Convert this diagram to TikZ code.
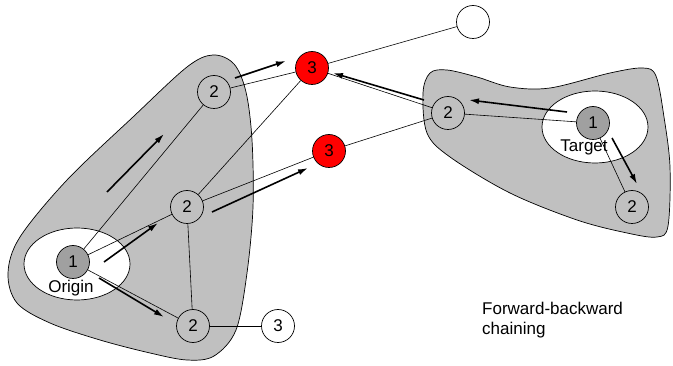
\documentclass[tikz,border=0pt]{standalone}
\usepackage{fontspec}
\setmainfont{Liberation Sans}
\usetikzlibrary{arrows.meta}
\definecolor{regiongray}{HTML}{C0C0C0}
\definecolor{seedgray}{HTML}{A0A0A0}
\definecolor{hitred}{HTML}{FF0000}
\tikzset{
  state/.style={circle, draw=black, line width=0.7pt, minimum size=33pt, inner sep=0pt,
                font=\fontsize{17pt}{19pt}\selectfont, fill=regiongray},
  seed/.style={state, fill=seedgray},
  open/.style={state, fill=white},
  hit/.style={state, fill=hitred},
  region/.style={draw=black, line width=0.7pt, fill=regiongray},
  zone/.style={draw=black, line width=0.7pt, fill=white},
  link/.style={draw=black, line width=0.6pt},
  flow/.style={draw=black, line width=1.6pt, -{Latex[length=10pt,width=6pt]}},
  caption/.style={font=\fontsize{17pt}{20pt}\selectfont, inner sep=0pt}
}
\begin{document}
\begin{tikzpicture}[x=1pt, y=-1pt]
\useasboundingbox (0,0) rectangle (673,366);

% search regions
\draw[region] plot[smooth cycle, tension=0.55] coordinates {
  (213,55) (234,64) (246,92) (252,140) (253,207) (247,273) (236,330) (214,356)
  (187,360) (150,353) (100,340) (50,323) (17,303) (8,273) (20,237) (67,180)
  (133,117) (187,67)};
\draw[region] plot[smooth cycle, tension=0.55] coordinates {
  (447,70) (477,77) (510,87) (550,88) (610,73) (643,68) (656,76) (664,117)
  (670,167) (668,226) (657,237) (627,233) (577,220) (510,193) (450,157)
  (427,133) (423,93) (430,73)};

% start and goal zones
\draw[zone] (77,264) ellipse [x radius=53, y radius=36];
\draw[zone] (595,127) ellipse [x radius=53, y radius=36];

% states
\node[seed] (o1) at (73,262) {1};
\node[state] (oa) at (214,92) {2};
\node[state] (ob) at (187,207) {2};
\node[state] (oc) at (193,326) {2};
\node[open] (o3) at (278,326) {3};
\node[hit] (ra) at (312,68) {3};
\node[hit] (rb) at (329,151) {3};
\node[open] (far) at (473,22) {};
\node[state] (ta) at (448,113) {2};
\node[seed] (t1) at (593,123) {1};
\node[state] (tb) at (632,207) {2};

% labels
\node[caption] at (71,288) {Origin};
\node[caption] at (584,147) {Target};
\node[caption, anchor=west, align=left] at (482,320) {Forward-backward\\chaining};

% graph edges
\draw[link] (o1) -- (oa);
\draw[link] (o1) -- (ob);
\draw[link] (o1) -- (oc);
\draw[link] (ob) -- (oc);
\draw[link] (oc) -- (o3);
\draw[link] (oa) -- (ra);
\draw[link] (ob) -- (ra);
\draw[link] (ob) -- (rb);
\draw[link] (ra) -- (far);
\draw[link] (ra) -- (ta);
\draw[link] (rb) -- (ta);
\draw[link] (ta) -- (t1);
\draw[link] (t1) -- (tb);

% search direction arrows
\coordinate (f1s) at (107,192); \coordinate (f1e) at (164,134);
\coordinate (f2s) at (104,262); \coordinate (f2e) at (158,223);
\coordinate (f3s) at (99,278);  \coordinate (f3e) at (164,317);
\coordinate (f4s) at (235,78);  \coordinate (f4e) at (286,61);
\coordinate (f5s) at (212,212); \coordinate (f5e) at (308,168);
\coordinate (b1s) at (424,100); \coordinate (b1e) at (333,73);
\coordinate (b2s) at (567,112); \coordinate (b2e) at (469,100);
\coordinate (b3s) at (612,138); \coordinate (b3e) at (637,184);
\draw[flow] (f1s) -- (f1e);
\draw[flow] (f2s) -- (f2e);
\draw[flow] (f3s) -- (f3e);
\draw[flow] (f4s) -- (f4e);
\draw[flow] (f5s) -- (f5e);
\draw[flow] (b1s) -- (b1e);
\draw[flow] (b2s) -- (b2e);
\draw[flow] (b3s) -- (b3e);
\end{tikzpicture}
\end{document}
